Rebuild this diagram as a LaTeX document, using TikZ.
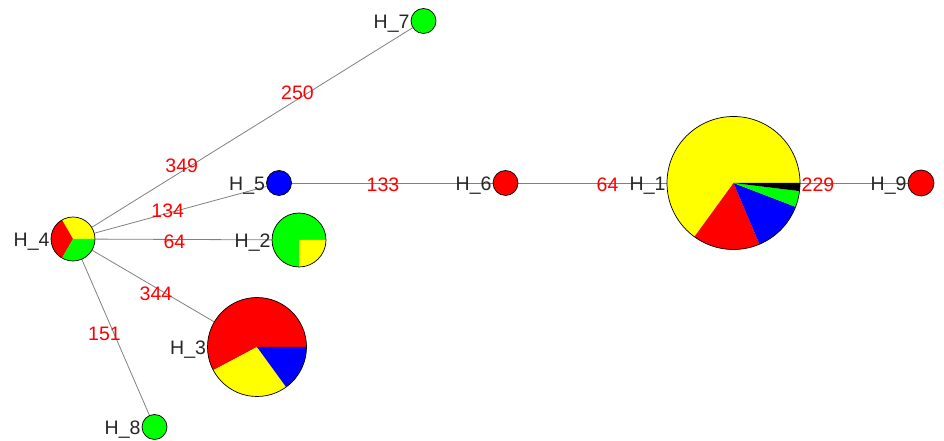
\documentclass[tikz,border=0pt]{standalone}
\usepackage{fontspec}
\setmainfont{Liberation Sans}
\usetikzlibrary{backgrounds}
\definecolor{pred}{RGB}{255,0,0}
\definecolor{pyellow}{RGB}{255,255,0}
\definecolor{pgreen}{RGB}{0,255,0}
\definecolor{pblue}{RGB}{0,0,255}
\definecolor{edgegray}{RGB}{128,128,128}
\tikzset{
 hnode/.style={circle, draw=black, line width=0.7pt, inner sep=0pt, minimum size=#1},
 hlabel/.style={font=\fontsize{19.5}{20}\selectfont, text=black!85, inner sep=0pt, anchor=base east},
 elabel/.style={font=\fontsize{19.5}{20}\selectfont, text=pred, inner sep=0pt},
 edgeline/.style={draw=edgegray, line width=0.8pt}
}
\newcommand{\pslice}[5]{\fill[#5] (#1) -- ++(#3:#2) arc[start angle=#3, end angle=#4, radius=#2] -- cycle;}
\begin{document}
\begin{tikzpicture}[x=1pt,y=1pt]
\useasboundingbox (0,0) rectangle (944,441);
% nodes
\node[hnode=44pt] (h4) at (73,202) {};
\node[hnode=133pt] (h1) at (733.5,258) {};
\node[hnode=99pt] (h3) at (257,94) {};
\node[hnode=54pt] (h2) at (299,201) {};
\node[hnode=25pt, fill=pgreen] (h7) at (423.5,420) {};
\node[hnode=26pt, fill=pred] (h9) at (921,258) {};
\node[hnode=25pt, fill=pgreen] (h8) at (154.5,14) {};
\node[hnode=25pt, fill=pblue] (h5) at (279,258) {};
\node[hnode=25pt, fill=pred] (h6) at (505.5,258) {};
\begin{scope}[on background layer]
\draw[edgeline] (h4) -- (h7);
\draw[edgeline] (h4) -- (h5);
\draw[edgeline] (h4) -- (h2);
\draw[edgeline] (h4) -- (h3);
\draw[edgeline] (h4) -- (h8);
\draw[edgeline] (h5) -- (h6);
\draw[edgeline] (h6) -- (h1);
\draw[edgeline] (h1) -- (h9);
% pies
\pslice{h1.center}{66.5}{0}{234}{pyellow}
\pslice{h1.center}{66.5}{234}{293}{pred}
\pslice{h1.center}{66.5}{293}{339}{pblue}
\pslice{h1.center}{66.5}{339}{353}{pgreen}
\pslice{h1.center}{66.5}{353}{360}{black}
\pslice{h3.center}{49.5}{0}{208}{pred}
\pslice{h3.center}{49.5}{208}{306}{pyellow}
\pslice{h3.center}{49.5}{306}{360}{pblue}
\pslice{h2.center}{27}{0}{270}{pgreen}
\pslice{h2.center}{27}{270}{360}{pyellow}
\pslice{h4.center}{22}{0}{120}{pyellow}
\pslice{h4.center}{22}{120}{240}{pred}
\pslice{h4.center}{22}{240}{360}{pgreen}
\end{scope}
% vertex labels
\node[hlabel] (l1) at ([xshift=-1pt,yshift=-7.5pt]h1.west) {H\_1};
\node[hlabel] (l2) at ([xshift=-1pt,yshift=-7.5pt]h2.west) {H\_2};
\node[hlabel] (l3) at ([xshift=-1pt,yshift=-7.5pt]h3.west) {H\_3};
\node[hlabel] (l4) at ([xshift=-1pt,yshift=-7.5pt]h4.west) {H\_4};
\node[hlabel] (l5) at ([xshift=-1pt,yshift=-7.5pt]h5.west) {H\_5};
\node[hlabel] (l6) at ([xshift=-1pt,yshift=-7.5pt]h6.west) {H\_6};
\node[hlabel] (l7) at ([xshift=-1pt,yshift=-7.5pt]h7.west) {H\_7};
\node[hlabel] (l8) at ([xshift=-1pt,yshift=-7.5pt]h8.west) {H\_8};
\node[hlabel] (l9) at ([xshift=-1pt,yshift=-7.5pt]h9.west) {H\_9};
% edge labels
\node[elabel] (e250) at (297.5,348) {250};
\node[elabel] (e349) at (181.7,275.5) {349};
\node[elabel] (e134) at (167.7,230) {134};
\node[elabel] (e64a) at (174.5,199.5) {64};
\node[elabel] (e344) at (156,147.5) {344};
\node[elabel] (e151) at (104.5,107.5) {151};
\node[elabel] (e133) at (383,256) {133};
\node[elabel] (e64b) at (607.5,256) {64};
\node[elabel] (e229) at (818,256) {229};
\end{tikzpicture}
\end{document}
